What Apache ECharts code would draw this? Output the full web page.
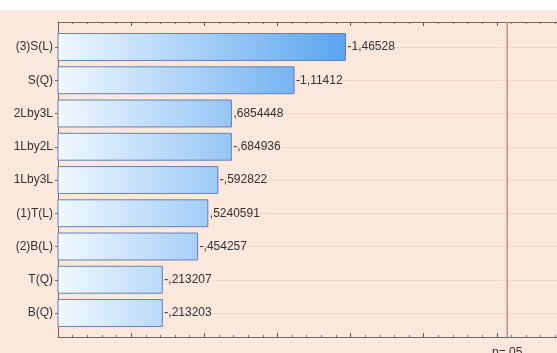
<!DOCTYPE html>
<html>
<head>
<meta charset="utf-8">
<script src="https://cdn.jsdelivr.net/npm/echarts@6/dist/echarts.min.js"></script>
<style>
  html, body { margin: 0; padding: 0; background: #fbe8dc; }
  #chart { width: 557px; height: 353px; }
</style>
</head>
<body>
<div id="chart"></div>
<script>
// Effects, ordered by absolute size (Pareto order)
const categories = ['(3)S(L)', 'S(Q)', '2Lby3L', '1Lby2L', '1Lby3L', '(1)T(L)', '(2)B(L)', 'T(Q)', 'B(Q)'];
const effects = [-1.46528, -1.11412, 0.6854448, -0.684936, -0.592822, 0.5240591, -0.454257, -0.213207, -0.213203];
// Critical t value for p = .05
const criticalValue = 2.5706;
const criticalLabel = 'p=.05';

// Horizontal axis range and tick step
const axisMin = -0.5;
const axisMax = 3.0;
const axisStep = 0.5;

// Numbers printed Statistica-style: decimal comma, no leading zero
function fmt(v) {
  return String(v).replace(/^(-?)0\./, '$1.').replace('.', ',');
}

const chart = echarts.init(document.getElementById('chart'), null, { renderer: 'canvas' });

const frameAxis = {
  type: 'value', gridIndex: 0, min: axisMin, max: axisMax, interval: axisStep,
  axisLine: { show: true, onZero: false, lineStyle: { color: '#6e6a68', width: 1 } },
  axisTick: { show: true, inside: true, length: 4, lineStyle: { color: '#5a5553' } },
  minorTick: { show: true, splitNumber: 5, length: 2, lineStyle: { color: '#7a7573' } },
  axisLabel: { show: false },
  splitLine: { show: false }
};

chart.setOption({
  backgroundColor: '#fbe8dc',
  animation: false,
  graphic: [
    { type: 'rect', left: 0, top: 0, shape: { width: 557, height: 10 }, style: { fill: '#ffffff' }, silent: true }
  ],
  grid: [
    { left: 58, top: 22, width: 512, height: 315, outerBoundsMode: 'none', containLabel: false },
    { left: 58, top: 47, width: 512, height: 266, outerBoundsMode: 'none', containLabel: false }
  ],
  xAxis: [
    Object.assign({}, frameAxis, { position: 'top' }),
    Object.assign({}, frameAxis, { position: 'bottom' }),
    { type: 'value', gridIndex: 1, min: axisMin, max: axisMax, interval: axisStep, show: false }
  ],
  yAxis: [
    {
      type: 'value', gridIndex: 0, min: 0, max: 1, position: 'left',
      axisLine: { show: true, onZero: false, lineStyle: { color: '#6e6a68', width: 1 } },
      axisTick: { show: false }, axisLabel: { show: false }, splitLine: { show: false }
    },
    {
      type: 'category', gridIndex: 1, data: categories, inverse: true, boundaryGap: false,
      axisLine: { show: false, onZero: false },
      axisTick: { show: true, length: 3, lineStyle: { color: '#6e6a68' } },
      axisLabel: { fontFamily: 'Liberation Sans, Arial, sans-serif', fontSize: 12, color: '#333333', margin: 5 },
      splitLine: { show: true, lineStyle: { color: '#f1d7c9', width: 1 } }
    }
  ],
  series: [
    {
      type: 'custom',
      xAxisIndex: 2,
      yAxisIndex: 1,
      data: effects.map((v, i) => [Math.abs(v), i, v]),
      encode: { x: 0, y: 1 },
      renderItem: function (params, api) {
        const idx = api.value(1);
        const end = api.coord([api.value(0), idx]);
        const start = api.coord([axisMin, idx]);
        const gradEnd = api.coord([1.5, idx]);
        const h = api.size([0, 1])[1] * 0.81;
        return {
          type: 'group',
          children: [
            {
              type: 'rect',
              shape: { x: start[0], y: end[1] - h / 2, width: end[0] - start[0], height: h },
              style: {
                fill: new echarts.graphic.LinearGradient(start[0], 0, gradEnd[0], 0, [
                  { offset: 0, color: '#f0f8ff' },
                  { offset: 1, color: '#58a3ee' }
                ], true),
                stroke: '#6581b8',
                lineWidth: 1
              }
            },
            {
              type: 'text',
              style: {
                x: end[0] + 2,
                y: end[1],
                text: fmt(api.value(2)),
                fontFamily: 'Liberation Sans, Arial, sans-serif',
                fontSize: 12,
                fill: '#333333',
                verticalAlign: 'middle',
                align: 'left'
              }
            }
          ]
        };
      }
    },
    {
      type: 'custom',
      xAxisIndex: 0,
      yAxisIndex: 0,
      data: [[criticalValue]],
      encode: { x: 0 },
      renderItem: function (params, api) {
        const top = api.coord([api.value(0), 1]);
        const bottom = api.coord([api.value(0), 0]);
        return {
          type: 'group',
          children: [
            {
              type: 'line',
              shape: { x1: top[0], y1: top[1], x2: bottom[0], y2: bottom[1] },
              style: { stroke: '#cf8d84', lineWidth: 1.5 }
            },
            {
              type: 'text',
              style: {
                x: bottom[0],
                y: bottom[1] + 10,
                text: criticalLabel,
                fontFamily: 'Liberation Sans, Arial, sans-serif',
                fontSize: 12,
                fill: '#333333',
                align: 'center',
                verticalAlign: 'top'
              }
            }
          ]
        };
      }
    }
  ]
});
</script>
</body>
</html>
